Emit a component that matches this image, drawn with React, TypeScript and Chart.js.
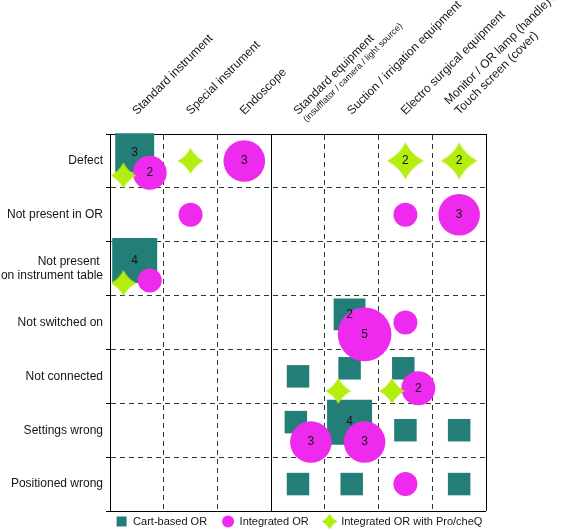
import React, { useEffect, useRef } from 'react';
import { Chart, registerables } from 'chart.js';

Chart.register(...registerables);

// ---------- data ----------
const xCategories: (string | string[])[] = [
  'Standard instrument',
  'Special instrument',
  'Endoscope',
  'Standard equipment',
  'Suction / irrigation equipment',
  'Electro surgical equipment',
  ['Monitor / OR lamp (handle) /', 'Touch screen (cover)'],
];
const standardEquipmentNote = '(insufflator / camera / light source)';
const noteCategoryIndex = 3;
const groupDividerAfter = 2; // solid line between Endoscope and Standard equipment

const yCategories: (string | string[])[] = [
  'Defect',
  'Not present in OR',
  ['Not present ', 'on instrument table'],
  'Not switched on',
  'Not connected',
  'Settings wrong',
  'Positioned wrong',
];

const seriesNames = ['Cart-based OR', 'Integrated OR', 'Integrated OR with Pro/cheQ'];

// counts: rows = yCategories, columns = xCategories
const cartBasedOR: number[][] = [
  [3, 0, 0, 0, 0, 0, 0],
  [0, 0, 0, 0, 0, 0, 0],
  [4, 0, 0, 0, 0, 0, 0],
  [0, 0, 0, 0, 2, 0, 0],
  [0, 0, 0, 1, 1, 1, 0],
  [0, 0, 0, 1, 4, 1, 1],
  [0, 0, 0, 1, 1, 0, 1],
];
const integratedOR: number[][] = [
  [2, 0, 3, 0, 0, 0, 0],
  [0, 1, 0, 0, 0, 1, 3],
  [1, 0, 0, 0, 0, 0, 0],
  [0, 0, 0, 0, 5, 1, 0],
  [0, 0, 0, 0, 0, 2, 0],
  [0, 0, 0, 3, 3, 0, 0],
  [0, 0, 0, 0, 0, 1, 0],
];
const proCheQ: number[][] = [
  [1, 1, 0, 0, 0, 2, 2],
  [0, 0, 0, 0, 0, 0, 0],
  [1, 0, 0, 0, 0, 0, 0],
  [0, 0, 0, 0, 0, 0, 0],
  [0, 0, 0, 0, 1, 1, 0],
  [0, 0, 0, 0, 0, 0, 0],
  [0, 0, 0, 0, 0, 0, 0],
];

// ---------- styles ----------
const TEAL = '#237e78';
const MAGENTA = '#ee2aee';
const LIME = '#b4ee0f';
const TEXT = '#151515';
const FONT = "'Liberation Sans', Arial, Helvetica, sans-serif";
const X_LABEL_PAD = 16;
const X_LABEL_SHIFT = 8;

// offsets (in cell units) used when several series share a cell
const shareOffsets: [number, number][] = [
  [-0.04, -0.15],
  [0.24, 0.22],
  [-0.25, 0.27],
];
const squareSide = (n: number) => 22.5 * Math.sqrt(n);
const circleDiam = (n: number) => 24 * Math.sqrt(n);
const starWidth = (n: number) => 26 * Math.sqrt(n);

const allSeries = [cartBasedOR, integratedOR, proCheQ];

type Pt = { x: number; y: number; n: number };
function buildPoints(si: number): Pt[] {
  const m = allSeries[si];
  const pts: Pt[] = [];
  m.forEach((row, r) =>
    row.forEach((n, c) => {
      if (n > 0) {
        const shared = allSeries.some((s, k) => k !== si && s[r][c] > 0);
        const off = shared ? shareOffsets[si] : [0, 0];
        pts.push({ x: c + off[0], y: r + off[1], n });
      }
    })
  );
  return pts;
}

function drawStar(ctx: CanvasRenderingContext2D, cx: number, cy: number, R: number, color: string) {
  const k = 0.33 * R;
  ctx.beginPath();
  ctx.moveTo(cx, cy - R);
  ctx.quadraticCurveTo(cx + k, cy - k, cx + R, cy);
  ctx.quadraticCurveTo(cx + k, cy + k, cx, cy + R);
  ctx.quadraticCurveTo(cx - k, cy + k, cx - R, cy);
  ctx.quadraticCurveTo(cx - k, cy - k, cx, cy - R);
  ctx.closePath();
  ctx.fillStyle = color;
  ctx.fill();
}

const starCache: Record<string, HTMLCanvasElement> = {};
function starCanvas(width: number): HTMLCanvasElement {
  const key = width.toFixed(2);
  if (starCache[key]) return starCache[key];
  const size = Math.ceil(width) + 2;
  const c = document.createElement('canvas');
  c.width = size;
  c.height = size;
  const g = c.getContext('2d')!;
  drawStar(g, size / 2, size / 2, width / 2, LIME);
  starCache[key] = c;
  return c;
}

const isInt = (v: number) => Math.abs(v - Math.round(v)) < 1e-6;
const near = (a: number, b: number) => Math.abs(a - b) < 1e-6;

function isSolid(v: number, isX: boolean) {
  return near(v, -0.5) || near(v, 6.5) || (isX && near(v, groupDividerAfter + 0.5));
}
function gridColor(isX: boolean) {
  return (ctx: any) => {
    const v = ctx.tick ? ctx.tick.value : undefined;
    if (v === undefined) return '#000';
    if (isInt(v)) return 'rgba(0,0,0,0)';
    if (isSolid(v, isX)) return '#000';
    return '#333';
  };
}
function gridDash(isX: boolean) {
  return (ctx: any) => {
    const v = ctx.tick ? ctx.tick.value : undefined;
    if (v === undefined || isInt(v) || isSolid(v, isX)) return [];
    return [5, 4];
  };
}

const tickValues = (count: number) => {
  const out: { value: number }[] = [];
  for (let i = 0; i <= count * 2; i++) out.push({ value: -0.5 + i * 0.5 });
  return out;
};

const labelPlugin = {
  id: 'countLabels',
  afterDatasetsDraw(chart: any) {
    const ctx = chart.ctx;
    ctx.save();
    ctx.font = `12px ${FONT}`;
    ctx.fillStyle = TEXT;
    ctx.textAlign = 'center';
    ctx.textBaseline = 'middle';
    chart.data.datasets.forEach((ds: any, i: number) => {
      const meta = chart.getDatasetMeta(i);
      meta.data.forEach((el: any, j: number) => {
        const n = ds.data[j].n;
        if (n > 1) ctx.fillText(String(n), el.x, el.y);
      });
    });
    ctx.restore();
  },
};

const extrasPlugin = {
  id: 'extras',
  afterDraw(chart: any) {
    const ctx = chart.ctx as CanvasRenderingContext2D;
    // sub-line of "Standard equipment"
    const xs = chart.scales.x;
    const px = xs.getPixelForValue(noteCategoryIndex) + X_LABEL_SHIFT;
    const lh = 12 * 1.2;
    ctx.save();
    ctx.translate(px - (lh / 2) * Math.SQRT1_2, xs.bottom - X_LABEL_PAD);
    ctx.rotate(-Math.PI / 4);
    ctx.font = `9px ${FONT}`;
    ctx.fillStyle = TEXT;
    ctx.textAlign = 'left';
    ctx.textBaseline = 'middle';
    ctx.fillText(standardEquipmentNote, 1, -lh / 2 + 12);
    ctx.restore();

    // legend
    const area = chart.chartArea;
    const y = area.bottom + 10.5;
    ctx.save();
    ctx.font = `11px ${FONT}`;
    ctx.textBaseline = 'middle';
    ctx.textAlign = 'left';
    const widths = seriesNames.map((s) => ctx.measureText(s).width);
    const centers: number[] = [];
    let c = 0;
    widths.forEach((w) => {
      centers.push(c);
      c = c + 11.5 + w + 21;
    });
    const left = -5;
    const right = centers[centers.length - 1] + 11.5 + widths[widths.length - 1];
    const shift = (area.left + area.right) / 2 + 1.5 - (left + right) / 2;
    seriesNames.forEach((s, i) => {
      const cx = centers[i] + shift;
      if (i === 0) {
        ctx.fillStyle = TEAL;
        ctx.fillRect(cx - 5, y - 5, 10, 10);
      } else if (i === 1) {
        ctx.fillStyle = MAGENTA;
        ctx.beginPath();
        ctx.arc(cx, y, 6, 0, Math.PI * 2);
        ctx.fill();
      } else {
        drawStar(ctx, cx, y, 8, LIME);
      }
      ctx.fillStyle = TEXT;
      ctx.fillText(s, cx + 11.5, y);
    });
    ctx.restore();
  },
};

export default function App() {
  const ref = useRef<HTMLCanvasElement>(null);
  useEffect(() => {
    if (!ref.current) return;
    const chart = new Chart(ref.current, {
      type: 'scatter',
      data: {
        datasets: [
          {
            label: seriesNames[0],
            data: buildPoints(0),
            pointStyle: 'rect',
            pointRadius: (ctx: any) => squareSide(ctx.raw.n) / Math.SQRT2,
            pointHoverRadius: (ctx: any) => squareSide(ctx.raw.n) / Math.SQRT2,
            backgroundColor: TEAL,
            borderWidth: 0,
            order: 3,
            clip: false,
          } as any,
          {
            label: seriesNames[1],
            data: buildPoints(1),
            pointStyle: 'circle',
            pointRadius: (ctx: any) => circleDiam(ctx.raw.n) / 2,
            pointHoverRadius: (ctx: any) => circleDiam(ctx.raw.n) / 2,
            backgroundColor: MAGENTA,
            borderWidth: 0,
            order: 2,
            clip: false,
          } as any,
          {
            label: seriesNames[2],
            data: buildPoints(2),
            pointStyle: (ctx: any) => starCanvas(starWidth(ctx.raw ? ctx.raw.n : 1)),
            pointRadius: (ctx: any) => starWidth(ctx.raw ? ctx.raw.n : 1) / 2,
            backgroundColor: LIME,
            borderWidth: 0,
            order: 1,
            clip: false,
          } as any,
        ],
      },
      options: {
        animation: false,
        responsive: false,
        devicePixelRatio: 1,
        events: [],
        layout: { autoPadding: false, padding: { left: 0, top: 0, right: 82, bottom: 19 } },
        plugins: {
          legend: { display: false },
          tooltip: { enabled: false },
        },
        scales: {
          x: {
            type: 'linear',
            position: 'top',
            min: -0.5,
            max: 6.5,
            afterBuildTicks: (s: any) => {
              s.ticks = tickValues(xCategories.length);
            },
            afterFit: (s: any) => {
              s.height = 134;
            },
            ticks: {
              autoSkip: false,
              maxRotation: 45,
              minRotation: 45,
              padding: X_LABEL_PAD,
              labelOffset: X_LABEL_SHIFT,
              color: TEXT,
              font: { size: 12, family: FONT },
              callback: (v: any) => {
                const n = Number(v);
                return isInt(n) ? xCategories[Math.round(n)] ?? '' : '';
              },
            },
            grid: {
              drawTicks: false,
              color: gridColor(true),
              lineWidth: 1,
            },
            border: { display: true, color: '#000', width: 1, dash: gridDash(true) },
          },
          y: {
            type: 'linear',
            reverse: true,
            min: -0.5,
            max: 6.5,
            afterBuildTicks: (s: any) => {
              s.ticks = tickValues(yCategories.length);
            },
            afterFit: (s: any) => {
              s.width = 110;
            },
            ticks: {
              autoSkip: false,
              padding: 3,
              color: TEXT,
              font: { size: 12, family: FONT },
              callback: (v: any) => {
                const n = Number(v);
                return isInt(n) ? yCategories[Math.round(n)] ?? '' : '';
              },
            },
            grid: {
              drawTicks: true,
              tickLength: 4,
              tickColor: (ctx: any) => (ctx.tick && !isInt(ctx.tick.value) ? '#000' : 'rgba(0,0,0,0)'),
              color: gridColor(false),
              lineWidth: 1,
            },
            border: { display: true, color: '#000', width: 1, dash: gridDash(false) },
          },
        },
      } as any,
      plugins: [labelPlugin, extrasPlugin],
    });
    return () => chart.destroy();
  }, []);

  return (
    <div style={{ position: 'fixed', left: 0, top: 0, width: 568, height: 530, background: '#fff' }}>
      <canvas ref={ref} width={568} height={530} style={{ display: 'block' }} />
    </div>
  );
}
